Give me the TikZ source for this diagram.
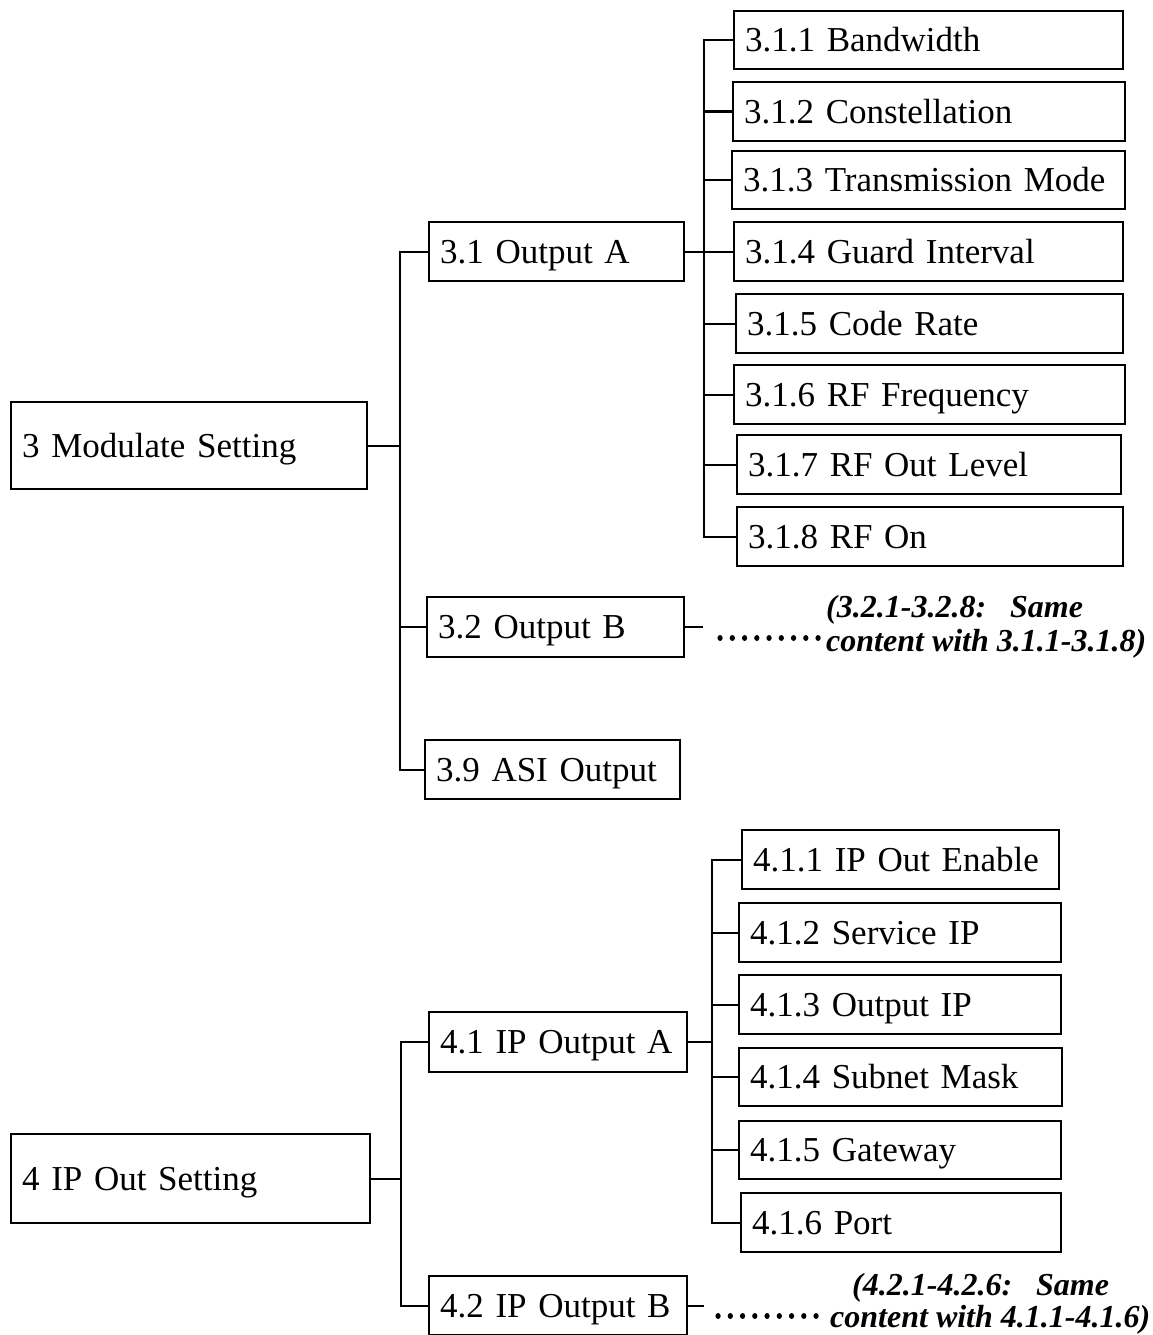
\documentclass[tikz,border=0pt]{standalone}
\usepackage{fontspec}
\setmainfont{Liberation Serif}
\newcommand\mybox[6]{%
  \pgfmathsetmacro\myboxw{#4-#2}%
  \pgfmathsetmacro\myboxh{#5-#3}%
  \pgfmathsetmacro\myboxt{#4-#2-22}%
  \node[box, anchor=north west, minimum width=\myboxw pt, minimum height=\myboxh pt, text width=\myboxt pt] (#1) at (#2,#3) {#6};%
}
\begin{document}
\begin{tikzpicture}[x=1pt,y=-1pt,
  box/.style={draw, line width=2.2pt, rectangle, inner xsep=11pt, inner ysep=0pt,
    align=left, text height=23pt, text depth=0pt, font=\fontsize{35}{40}\selectfont},
  conn/.style={line width=2.2pt},
  dotline/.style={line width=5.2pt, line cap=round, dash pattern=on 0.1pt off 12.15pt},
  note/.style={inner sep=0pt, anchor=base west, font=\bfseries\itshape\fontsize{32}{36}\selectfont}]
\useasboundingbox[fill=white] (0,0) rectangle (1153,1335);

% ---------- 3 Modulate Setting ----------
\mybox{m3}{10}{401}{366}{488}{3 Modulate Setting}
\mybox{o31}{428}{221}{683}{280}{3.1 Output A}
\mybox{o32}{426}{596}{683}{656}{3.2 Output B}
\mybox{o39}{424}{739}{679}{798}{3.9 ASI Output}

\mybox{c311}{733}{10}{1122}{68}{3.1.1 Bandwidth}
\mybox{c312}{732}{81}{1124}{140}{3.1.2 Constellation}
\mybox{c313}{731}{150}{1124}{208}{3.1.3 Transmission Mode}
\mybox{c314}{733}{221}{1122}{280}{3.1.4 Guard Interval}
\mybox{c315}{735}{293}{1122}{352}{3.1.5 Code Rate}
\mybox{c316}{733}{364}{1124}{423}{3.1.6 RF Frequency}
\mybox{c317}{736}{434}{1120}{493}{3.1.7 RF Out Level}
\mybox{c318}{736}{506}{1122}{565}{3.1.8 RF On}

\coordinate (b3) at (400,0);
\coordinate (b31) at (704,0);
\draw[conn] (m3.east) -- (m3.east -| b3);
\draw[conn] (o31.west) -- (o31.west -| b3) -- (o39.west -| b3) -- (o39.west);
\draw[conn] (o32.west) -- (o32.west -| b3);
\draw[conn] (o31.east) -- (o31.east -| b31);
\draw[conn] (c311.west) -- (c311.west -| b31) -- (c318.west -| b31) -- (c318.west);
\foreach \n in {c312,c313,c314,c315,c316,c317}
  \draw[conn] (\n.west) -- (\n.west -| b31);

\coordinate (s32) at (703,0);
\draw[conn] (o32.east) -- (o32.east -| s32);
\coordinate (d3a) at (720,638);
\coordinate (d3b) at (818.6,638);
\draw[dotline] (d3a) -- (d3b);
\node[note] (n3a) at (826,617) {(3.2.1-3.2.8:\ \ \ Same};
\node[note] (n3b) at (826,651) {content with 3.1.1-3.1.8)};

% ---------- 4 IP Out Setting ----------
\mybox{m4}{10}{1133}{369}{1222}{4 IP Out Setting}
\mybox{o41}{428}{1011}{686}{1071}{4.1 IP Output A}
\mybox{o42}{428}{1275}{686}{1334}{4.2 IP Output B}

\mybox{c411}{741}{829}{1058}{888}{4.1.1 IP Out Enable}
\mybox{c412}{738}{902}{1060}{961}{4.1.2 Service IP}
\mybox{c413}{738}{974}{1060}{1033}{4.1.3 Output IP}
\mybox{c414}{738}{1047}{1061}{1105}{4.1.4 Subnet Mask}
\mybox{c415}{738}{1120}{1060}{1178}{4.1.5 Gateway}
\mybox{c416}{740}{1192}{1060}{1251}{4.1.6 Port}

\coordinate (b4) at (401,0);
\coordinate (b41) at (712,0);
\draw[conn] (m4.east) -- (m4.east -| b4);
\draw[conn] (o41.west) -- (o41.west -| b4) -- (o42.west -| b4) -- (o42.west);
\draw[conn] (o41.east) -- (o41.east -| b41);
\draw[conn] (c411.west) -- (c411.west -| b41) -- (c416.west -| b41) -- (c416.west);
\foreach \n in {c412,c413,c414,c415}
  \draw[conn] (\n.west) -- (\n.west -| b41);

\coordinate (s42) at (704,0);
\draw[conn] (o42.east) -- (o42.east -| s42);
\coordinate (d4a) at (718,1316);
\coordinate (d4b) at (816.6,1316);
\draw[dotline] (d4a) -- (d4b);
\node[note] (n4a) at (852,1295) {(4.2.1-4.2.6:\ \ \ Same};
\node[note] (n4b) at (830,1327) {content with 4.1.1-4.1.6)};
\end{tikzpicture}
\end{document}
